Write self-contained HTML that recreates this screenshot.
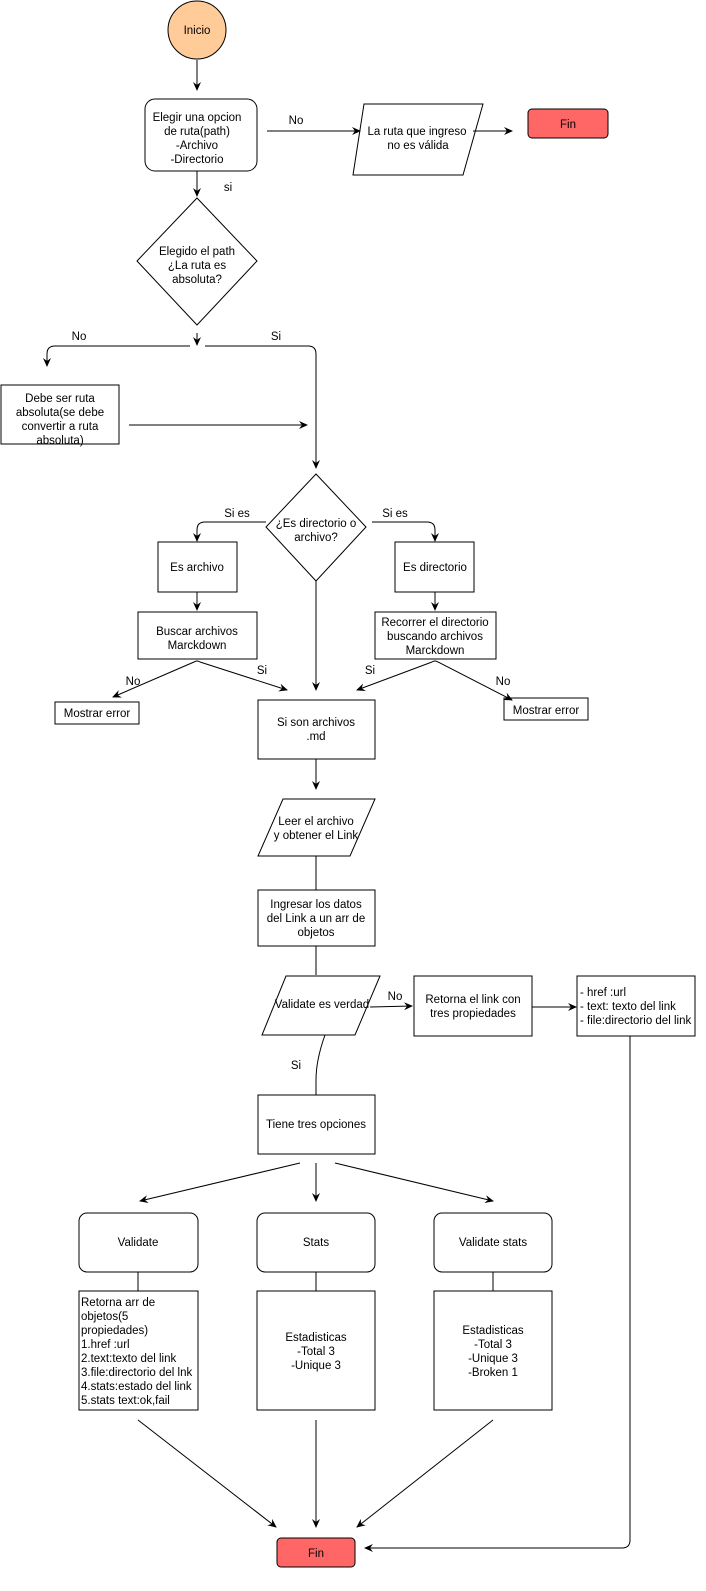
<!DOCTYPE html>
<html><head><meta charset="utf-8"><style>
html,body{margin:0;padding:0;background:#fff;}
svg{display:block;}
text{font-family:"Liberation Sans",Arial,sans-serif;font-size:11.5px;fill:#000;}
</style></head><body>
<svg width="706" height="1591" viewBox="0 0 706 1591" xmlns="http://www.w3.org/2000/svg">
<defs>
<marker id="a" markerWidth="10" markerHeight="10" refX="8" refY="5" orient="auto" markerUnits="userSpaceOnUse">
<path d="M0,1 L9,5 L0,9 L3,5 Z" fill="#000"/>
</marker>
</defs>
<g stroke="#000" stroke-width="1" fill="none">
<!-- shapes -->
<circle cx="197" cy="30" r="29" fill="#FFCC99"/>
<rect x="145" y="99" width="112" height="72" rx="10" fill="#fff"/>
<polygon points="364,104 483,104 463,175 353,175" fill="#fff"/>
<rect x="528" y="109" width="80" height="29" rx="4" fill="#FF6666"/>
<polygon points="197,198 257,261 197,325 137,261" fill="#fff"/>
<rect x="1" y="385" width="118" height="59" fill="#fff"/>
<polygon points="316,474 366,527 316,581 266,527" fill="#fff"/>
<rect x="158" y="542" width="79" height="50" fill="#fff"/>
<rect x="395" y="542" width="79" height="50" fill="#fff"/>
<rect x="138" y="612" width="119" height="47" fill="#fff"/>
<rect x="375" y="612" width="121" height="47" fill="#fff"/>
<rect x="55" y="702" width="84" height="22" fill="#fff"/>
<rect x="504" y="698" width="84" height="22" fill="#fff"/>
<rect x="258" y="700" width="117" height="59" fill="#fff"/>
<polygon points="283,799 375,799 350,856 258,856" fill="#fff"/>
<rect x="258" y="890" width="117" height="56" fill="#fff"/>
<polygon points="286,976 380,976 355,1035 262,1035" fill="#fff"/>
<rect x="414" y="976" width="118" height="60" fill="#fff"/>
<rect x="577" y="976" width="118" height="60" fill="#fff"/>
<rect x="258" y="1095" width="117" height="59" fill="#fff"/>
<rect x="79" y="1213" width="119" height="59" rx="8" fill="#fff"/>
<rect x="257" y="1213" width="118" height="59" rx="8" fill="#fff"/>
<rect x="434" y="1213" width="118" height="59" rx="8" fill="#fff"/>
<rect x="79" y="1291" width="119" height="119" fill="#fff"/>
<rect x="257" y="1291" width="118" height="119" fill="#fff"/>
<rect x="434" y="1291" width="118" height="119" fill="#fff"/>
<rect x="277" y="1538" width="78" height="29" rx="4" fill="#FF6666"/>

<!-- connectors -->
<path d="M197,60 V90" marker-end="url(#a)"/>
<path d="M267,131 H360" marker-end="url(#a)"/>
<path d="M473,131 H512" marker-end="url(#a)"/>
<path d="M197,171 V196" marker-end="url(#a)"/>
<path d="M197,333 V345" marker-end="url(#a)"/>
<path d="M190,346 H55 Q47,346 47,354 V366" marker-end="url(#a)"/>
<path d="M205,346 H308 Q316,346 316,354 V468" marker-end="url(#a)"/>
<path d="M129,425 H307" marker-end="url(#a)"/>
<path d="M266,522 H205 Q197,522 197,530 V541" marker-end="url(#a)"/>
<path d="M372,522 H427 Q435,522 435,530 V541" marker-end="url(#a)"/>
<path d="M197,592 V610" marker-end="url(#a)"/>
<path d="M435,592 V610" marker-end="url(#a)"/>
<path d="M200,662 Q197,660 194,662 L113,697" marker-end="url(#a)"/>
<path d="M200,662 L287,690" marker-end="url(#a)"/>
<path d="M432,662 Q435,660 438,662 L512,700" marker-end="url(#a)"/>
<path d="M432,662 L357,690" marker-end="url(#a)"/>
<path d="M316,581 V690" marker-end="url(#a)"/>
<path d="M316,759 V789" marker-end="url(#a)"/>
<path d="M316,856 V890"/>
<path d="M316,946 V975"/>
<path d="M370,1007 L412,1006" marker-end="url(#a)"/>
<path d="M532,1007 H576" marker-end="url(#a)"/>
<path d="M630,1036 V1540 Q630,1548 622,1548 H365" marker-end="url(#a)"/>
<path d="M325,1035 Q316,1060 316,1080 V1095"/>
<path d="M300,1163 L140,1201" marker-end="url(#a)"/>
<path d="M316,1163 V1201" marker-end="url(#a)"/>
<path d="M335,1163 L493,1201" marker-end="url(#a)"/>
<path d="M138,1272 V1291"/>
<path d="M316,1272 V1291"/>
<path d="M493,1272 V1291"/>
<path d="M138,1420 L276,1527" marker-end="url(#a)"/>
<path d="M316,1420 V1527" marker-end="url(#a)"/>
<path d="M493,1420 L357,1527" marker-end="url(#a)"/>
</g>

<g text-anchor="middle">
<text x="197" y="34">Inicio</text>
<text x="197" y="121">Elegir una opcion</text>
<text x="197" y="135">de ruta(path)</text>
<text x="197" y="149">-Archivo</text>
<text x="197" y="163">-Directorio</text>
<text x="296" y="124">No</text>
<text x="417" y="135">La ruta que ingreso</text>
<text x="418" y="149">no es válida</text>
<text x="568" y="128">Fin</text>
<text x="228" y="191">si</text>
<text x="197" y="255">Elegido el path</text>
<text x="197" y="269">¿La ruta es</text>
<text x="197" y="283">absoluta?</text>
<text x="79" y="340">No</text>
<text x="276" y="340">Si</text>
<text x="60" y="402">Debe ser ruta</text>
<text x="60" y="416">absoluta(se debe</text>
<text x="60" y="430">convertir a ruta</text>
<text x="60" y="444">absoluta)</text>
<text x="316" y="527">¿Es directorio o</text>
<text x="316" y="541">archivo?</text>
<text x="237" y="517">Si es</text>
<text x="395" y="517">Si es</text>
<text x="197" y="571">Es archivo</text>
<text x="435" y="571">Es directorio</text>
<text x="197" y="635">Buscar archivos</text>
<text x="197" y="649">Marckdown</text>
<text x="435" y="626">Recorrer el directorio</text>
<text x="435" y="640">buscando archivos</text>
<text x="435" y="654">Marckdown</text>
<text x="133" y="685">No</text>
<text x="262" y="674">Si</text>
<text x="370" y="674">Si</text>
<text x="503" y="685">No</text>
<text x="97" y="717">Mostrar error</text>
<text x="546" y="714">Mostrar error</text>
<text x="316" y="726">Si son archivos</text>
<text x="316" y="740">.md</text>
<text x="316" y="825">Leer el archivo</text>
<text x="316" y="839">y obtener el Link</text>
<text x="316" y="908">Ingresar  los datos</text>
<text x="316" y="922">del Link a un arr de</text>
<text x="316" y="936">objetos</text>
<text x="322" y="1008">Validate es verdad</text>
<text x="395" y="1000">No</text>
<text x="473" y="1003">Retorna el link con</text>
<text x="473" y="1017">tres propiedades</text>
<text x="296" y="1069">Si</text>
<text x="316" y="1128">Tiene tres opciones</text>
<text x="138" y="1246">Validate</text>
<text x="316" y="1246">Stats</text>
<text x="493" y="1246">Validate stats</text>
<text x="316" y="1341">Estadisticas</text>
<text x="316" y="1355">-Total 3</text>
<text x="316" y="1369">-Unique 3</text>
<text x="493" y="1334">Estadisticas</text>
<text x="493" y="1348">-Total 3</text>
<text x="493" y="1362">-Unique 3</text>
<text x="493" y="1376">-Broken 1</text>
<text x="316" y="1557">Fin</text>
</g>
<g>
<text x="580" y="996">- href :url</text>
<text x="580" y="1010">- text: texto del link</text>
<text x="580" y="1024">- file:directorio del link</text>
<text x="81" y="1306">Retorna arr de</text>
<text x="81" y="1320">objetos(5</text>
<text x="81" y="1334">propiedades)</text>
<text x="81" y="1348">1.href :url</text>
<text x="81" y="1362">2.text:texto del link</text>
<text x="81" y="1376">3.file:directorio del lnk</text>
<text x="81" y="1390">4.stats:estado del link</text>
<text x="81" y="1404">5.stats text:ok,fail</text>
</g>
</svg>
</body></html>
